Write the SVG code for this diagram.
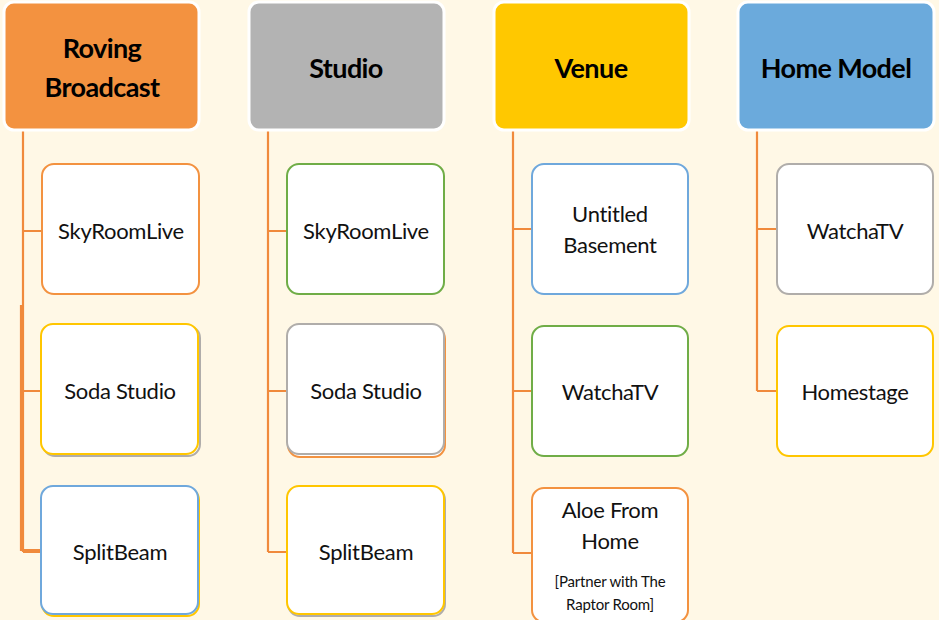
<svg xmlns="http://www.w3.org/2000/svg" width="939" height="620" viewBox="0 0 939 620">
<defs>
<style>
.hd{stroke:#fff;stroke-width:3}
.hdt{font-family:Lato,"Liberation Sans",sans-serif;font-weight:bold;font-size:27px;letter-spacing:-0.6px;fill:#000;text-anchor:middle}
.bx{fill:#fff;stroke-width:2}
.sh{stroke-width:2;fill:#fff}
.t{font-family:Lato,"Liberation Sans",sans-serif;font-size:22px;letter-spacing:-0.3px;fill:#111;text-anchor:middle}
.ts{font-family:Lato,"Liberation Sans",sans-serif;font-size:15px;letter-spacing:-0.2px;fill:#111;text-anchor:middle}
.c{stroke:#F08A3C;stroke-width:2.2;fill:none}
.o{stroke:#F39240}.y{stroke:#FFC600}.b{stroke:#6FA8DC}.g{stroke:#70AD47}.gr{stroke:#B0ADAA}
</style>
</defs>
<rect width="939" height="620" fill="#FFF8E6"/>
<g id="connectors">
<path class="c" d="M23 130V552M23 231H42M23 391H42M23 552H42M21 305V550H42"/>
<path class="c" d="M268 130V552M268 231H287M268 391H287M268 552H287"/>
<path class="c" d="M513 130V553M513 229H532M513 391H532M513 553H532"/>
<path class="c" d="M757 130V391M757 229H777M757 391H777"/>
</g>
<g id="h-roving"><rect class="hd" x="4" y="2" width="195" height="128" rx="10" fill="#F39240"/><text class="hdt" x="102" y="58">Roving</text><text class="hdt" x="102" y="97">Broadcast</text></g>
<g id="h-studio"><rect class="hd" x="249" y="2" width="195" height="128" rx="10" fill="#B3B3B3"/><text class="hdt" x="346" y="78">Studio</text></g>
<g id="h-venue"><rect class="hd" x="494" y="2" width="195" height="128" rx="10" fill="#FFC800"/><text class="hdt" x="591" y="78">Venue</text></g>
<g id="h-home"><rect class="hd" x="738" y="2" width="196" height="128" rx="10" fill="#6BAADC"/><text class="hdt" x="836" y="78">Home Model</text></g>

<g id="r1"><rect class="bx o" x="42" y="164" width="157" height="130" rx="12"/><text class="t" x="121" y="239">SkyRoomLive</text></g>
<g id="r2"><rect class="sh gr" x="43" y="326" width="157" height="130" rx="12"/><rect class="bx y" x="41" y="324" width="157" height="130" rx="12"/><text class="t" x="120" y="399">Soda Studio</text></g>
<g id="r3"><rect class="sh y" x="42" y="488" width="157" height="128" rx="12"/><rect class="bx b" x="41" y="486" width="157" height="128" rx="12"/><text class="t" x="120" y="560">SplitBeam</text></g>

<g id="s1"><rect class="bx g" x="287" y="164" width="157" height="130" rx="12"/><text class="t" x="366" y="239">SkyRoomLive</text></g>
<g id="s2"><rect class="sh o" x="288" y="327" width="157" height="130" rx="12"/><rect class="bx gr" x="287" y="324" width="157" height="130" rx="12"/><text class="t" x="366" y="399">Soda Studio</text></g>
<g id="s3"><rect class="sh gr" x="288" y="488" width="157" height="128" rx="12"/><rect class="bx y" x="287" y="486" width="157" height="128" rx="12"/><text class="t" x="366" y="560">SplitBeam</text></g>

<g id="v1"><rect class="bx b" x="532" y="164" width="156" height="130" rx="12"/><text class="t" x="610" y="222">Untitled</text><text class="t" x="610" y="253">Basement</text></g>
<g id="v2"><rect class="bx g" x="532" y="326" width="156" height="130" rx="12"/><text class="t" x="610" y="400">WatchaTV</text></g>
<g id="v3"><rect class="bx o" x="532" y="488" width="156" height="134" rx="12"/><text class="t" x="610" y="518">Aloe From</text><text class="t" x="610" y="549">Home</text><text class="ts" x="610" y="587">[Partner with The</text><text class="ts" x="610" y="610">Raptor Room]</text></g>

<g id="m1"><rect class="bx gr" x="777" y="164" width="156" height="130" rx="12"/><text class="t" x="855" y="239">WatchaTV</text></g>
<g id="m2"><rect class="bx y" x="777" y="326" width="156" height="130" rx="12"/><text class="t" x="855" y="400">Homestage</text></g>
</svg>
